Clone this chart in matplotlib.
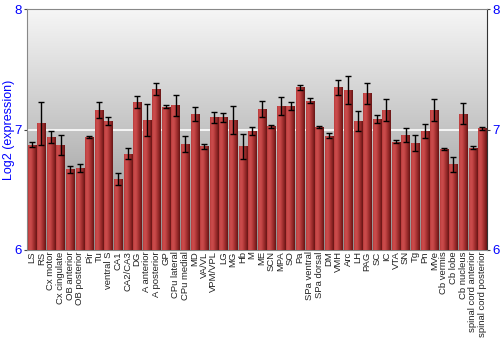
import numpy as np
import matplotlib
matplotlib.use("Agg")
import matplotlib.pyplot as plt
from matplotlib.colors import LinearSegmentedColormap

plt.rcParams["font.family"] = ["Liberation Sans", "DejaVu Sans"]

regions = ["LS", "RS", "Cx motor", "Cx cingulate", "OB anterior", "OB posterior", "Pir", "Tu",
           "ventral S", "CA1", "CA2/CA3", "DG", "A anterior", "A posterior", "GP", "CPu lateral",
           "CPu medial", "MD", "VA/VL", "VPM/VPL", "LG", "MG", "Hb", "M", "ME", "SCN", "MPA",
           "SO", "Pa", "SPa ventral", "SPa dorsal", "DM", "VMH", "Arc", "LH", "PAG", "SC", "IC",
           "VTA", "SN", "Tg", "Pn", "MVe", "Cb vermis", "Cb lobe", "Cb nucleus",
           "spinal cord anterior", "spinal cord posterior"]
values = [6.875, 7.05, 6.94, 6.87, 6.67, 6.68, 6.94, 7.16,
          7.07, 6.59, 6.80, 7.23, 7.08, 7.34, 7.19, 7.20,
          6.88, 7.13, 6.86, 7.10, 7.10, 7.08, 6.86, 6.99, 7.17, 7.025, 7.195,
          7.195, 7.35, 7.24, 7.02, 6.95, 7.35, 7.33, 7.07, 7.30, 7.09, 7.16,
          6.90, 6.955, 6.89, 6.99, 7.16, 6.84, 6.71, 7.13,
          6.85, 7.01]
errors = [0.02, 0.18, 0.05, 0.085, 0.03, 0.033, 0.01, 0.065,
          0.035, 0.05, 0.045, 0.05, 0.13, 0.05, 0.01, 0.09,
          0.065, 0.06, 0.02, 0.045, 0.035, 0.115, 0.105, 0.033, 0.068, 0.01, 0.075,
          0.033, 0.02, 0.018, 0.01, 0.02, 0.06, 0.117, 0.08, 0.086, 0.033, 0.09,
          0.014, 0.058, 0.066, 0.058, 0.09, 0.01, 0.065, 0.087,
          0.014, 0.01]
yticks = [6, 7, 8]

fig = plt.figure(figsize=(5, 3.5), dpi=100)
ax = fig.add_axes([0.054, 0.286, 0.92, 0.688])

n = len(regions)
x = np.arange(n)
ax.set_xlim(-0.5, n - 0.5)
ax.set_ylim(6, 8)

# background vertical gradient
bg = LinearSegmentedColormap.from_list("bg", ["#8e8e8e", "#c4c4c4", "#f6f6f6"])
grad = np.linspace(0, 1, 256).reshape(-1, 1)
ax.imshow(grad, cmap=bg, aspect="auto", extent=(-0.5, n - 0.5, 6, 8), origin="lower", zorder=0)
ax.axhline(7, color="white", lw=1.2, zorder=1)

bars = ax.bar(x, np.array(values) - 6, bottom=6, width=0.85, color="#b83c3c", zorder=2)
barmap = LinearSegmentedColormap.from_list(
    "bar", ["#b83a3a", "#cc4e4e", "#c44646", "#a83434", "#8a2424", "#661414"])
hgrad = np.linspace(0, 1, 64).reshape(1, -1)
for b in bars:
    x0, w = b.get_x(), b.get_width()
    im = ax.imshow(hgrad, cmap=barmap, aspect="auto",
                   extent=(x0, x0 + w, 6, b.get_y() + b.get_height()), zorder=3)
    im.set_clip_path(b)
ax.errorbar(x, values, yerr=errors, fmt="none", ecolor="black", elinewidth=1,
            capsize=2, capthick=1, zorder=4)
ax.set_xlim(-0.5, n - 0.5)
ax.set_ylim(6, 8)

ax.set_xticks(x)
ax.set_xticklabels(regions, rotation=90, fontsize=6.8, color="#222222")
ax.tick_params(axis="x", length=0, pad=1)
ax.set_yticks(yticks)
ax.set_yticklabels([str(t) for t in yticks], color="blue", fontsize=9.5)
ax.tick_params(axis="y", left=True, right=True, labelright=True, labelleft=True,
               length=2.5, pad=1.5, color="#444444")
ax.set_ylabel("Log2 (expression)", color="blue", fontsize=9)
ax.yaxis.set_label_coords(-0.026, 0.5)

for s in ["top", "left", "bottom"]:
    ax.spines[s].set_color("#888888")
ax.spines["right"].set_color("#333333")

fig.savefig("out.png", dpi=100)
